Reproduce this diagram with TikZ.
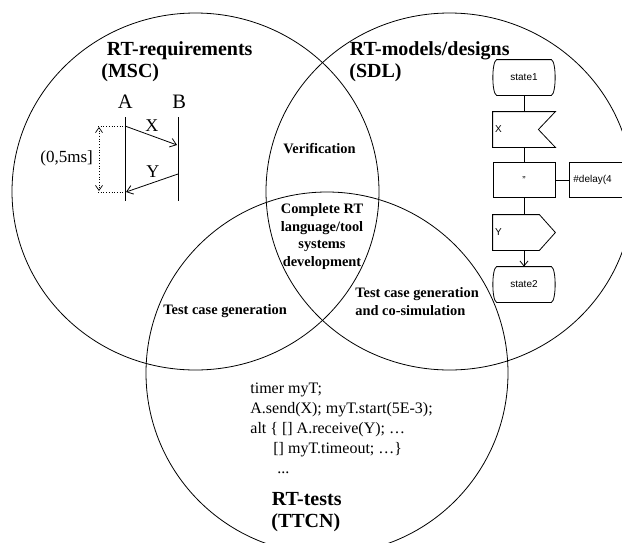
\documentclass[tikz,border=0pt]{standalone}
\usepackage{fontspec}
\setmainfont{Liberation Serif}
\setsansfont{Liberation Sans}
\usetikzlibrary{arrows.meta}
\newcommand\StateOutline[1]{%
  \draw ([xshift=4pt]#1.north west) -- ([xshift=-4pt]#1.north east)
    .. controls ([xshift=1pt,yshift=-2pt]#1.north east) and ([xshift=1pt,yshift=2pt]#1.south east) .. ([xshift=-4pt]#1.south east)
    -- ([xshift=4pt]#1.south west)
    .. controls ([xshift=-1pt,yshift=2pt]#1.south west) and ([xshift=-1pt,yshift=-2pt]#1.north west) .. cycle;}
\begin{document}
\begin{tikzpicture}[x=1pt,y=-1pt, line width=0.8pt,
  venn/.style={draw, line width=0.8pt},
  title/.style={font=\bfseries\fontsize{20}{23}\selectfont, inner sep=0, anchor=base west},
  region/.style={font=\bfseries\fontsize{14.4}{17.7}\selectfont, inner sep=0},
  code/.style={font=\fontsize{16}{20}\selectfont, inner sep=0},
  msc/.style={font=\fontsize{18}{20}\selectfont, inner sep=0, anchor=base west},
  lifename/.style={font=\fontsize{20.5}{22}\selectfont, inner sep=0, anchor=base west},
  sdlbox/.style={minimum width=62pt, minimum height=35pt, inner sep=0, font=\sffamily\fontsize{10}{12}\selectfont},
  msg/.style={-{Straight Barb[length=6pt,width=9pt]}},
  tick/.style={-{Straight Barb[length=5pt,width=8pt]}},
]
\useasboundingbox (0,0) rectangle (622,542);

% Venn circles
\draw[venn] (195.5,191.5) ellipse [x radius=183.5pt, y radius=178.5pt];
\draw[venn] (449.5,191.5) ellipse [x radius=183.5pt, y radius=178.5pt];
\draw[venn] (327,373) circle [radius=181pt];

% Titles
\node[title] (reqT) at (106.5,55.5) {RT-requirements};
\node[title] (reqM) at (101,77.5) {(MSC)};
\node[title] (modT) at (349.5,55.5) {RT-models/designs};
\node[title] (modS) at (349,77.5) {(SDL)};
\node[title] (tstT) at (271.5,505) {RT-tests};
\node[title] (tstC) at (271,527) {(TTCN)};

% Region texts
\node[region, anchor=base west] (verif) at (283,153) {Verification};
\node[region, align=center, anchor=north] (core) at (322,203) {Complete RT\\language/tool\\systems\\development};
\node[region, anchor=base west] (tcg) at (163,314) {Test case generation};
\node[region, align=left, anchor=north west] (tcgsim) at (355,287.3) {Test case generation\\and co-simulation};

% TTCN code
\node[code, align=left, anchor=north west] (ttcn) at (250,382) {timer myT;\\A.send(X); myT.start(5E-3);\\alt \{ [] A.receive(Y); …\\\hspace*{23pt}[] myT.timeout; …\}\\\hspace*{27pt}...};

% MSC
\node[lifename] (A) at (117.5,108.5) {A};
\node[lifename] (B) at (172,108.5) {B};
\coordinate (Atop) at (125,117); \coordinate (Abot) at (125,201);
\coordinate (Btop) at (178,117); \coordinate (Bbot) at (178,201);
\draw (Atop) -- (Abot);
\draw (Btop) -- (Bbot);
\coordinate (Xs) at (125,126); \coordinate (Xe) at (177,145);
\coordinate (Ys) at (178,174); \coordinate (Ye) at (126,192);
\draw[msg] (Xs) -- (Xe);
\draw[msg] (Ys) -- (Ye);
\node[msc] (X) at (145,131) {X};
\node[msc] (Y) at (146,177) {Y};
\coordinate (Dt) at (98,126); \coordinate (Db) at (98,192);
\coordinate (Vt) at (99,127); \coordinate (Vb) at (99,191);
\draw[dotted, line width=0.7pt] (Dt) -- (Xs);
\draw[dotted, line width=0.7pt] (Db) -- (Ye);
\draw[dotted, line width=0.7pt, {Straight Barb[length=5pt,width=7pt]}-{Straight Barb[length=5pt,width=7pt]}] (Vt) -- (Vb);
\node[msc, font=\fontsize{17}{20}\selectfont] (dur) at (40,162) {(0,5ms]};

% SDL
\node[sdlbox] (s1) at (524,77.5) {state1};
\StateOutline{s1}
\node[sdlbox, text width=58pt, align=left] (inx) at (524,129.5) {X};
\draw (inx.north west) -- (inx.north east) -- ([xshift=-17pt]inx.east) -- (inx.south east) -- (inx.south west) -- cycle;
\node[sdlbox, draw] (task) at (524,180) {"};
\node[sdlbox, draw, anchor=west, text width=54pt, align=left] (cmt) at (569,180) {\#delay(4};
\node[sdlbox, text width=58pt, align=left] (outy) at (524,232.5) {Y};
\draw (outy.north west) -- ([xshift=-16pt]outy.north east) -- (outy.east) -- ([xshift=-16pt]outy.south east) -- (outy.south west) -- cycle;
\node[sdlbox] (s2) at (524,284.5) {state2};
\StateOutline{s2}
\draw (s1) -- (inx);
\draw (inx) -- (task);
\draw (task) -- (cmt);
\draw (task) -- (outy);
\draw[tick] (outy) -- (s2);
\end{tikzpicture}
\end{document}
